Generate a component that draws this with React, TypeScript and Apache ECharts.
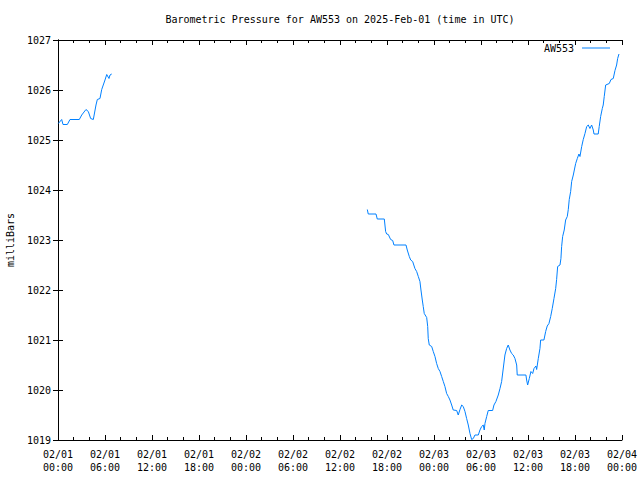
import React, { useEffect, useRef } from "react";
import * as echarts from "echarts";

// Hours since 2025-02-01 00:00 UTC
const hoursSeg1 = [0.04, 0.47, 0.64, 1.19, 1.53, 2.72, 3.03, 3.57, 3.87, 4.17, 4.51, 4.85, 5.02, 5.36, 5.58, 6.0, 6.22, 6.51, 6.64, 6.86];
const pressureSeg1 = [1025.33, 1025.41, 1025.31, 1025.31, 1025.41, 1025.41, 1025.5, 1025.61, 1025.57, 1025.43, 1025.41, 1025.7, 1025.81, 1025.83, 1026.01, 1026.2, 1026.31, 1026.23, 1026.3, 1026.32];

const hoursSeg2 = [
  39.49, 39.61, 40.6, 40.76, 41.66, 41.83, 41.96, 42.17, 42.47, 42.73, 42.89, 44.43, 44.59, 44.85, 45.03, 45.28, 45.57, 45.79, 46.0, 46.21,
  46.34, 46.51, 46.63, 46.76, 47.07, 47.2, 47.27, 47.4, 47.71, 47.91, 48.13, 48.34, 48.55, 48.77, 48.98, 49.19, 49.4, 49.62, 49.83, 50.04,
  50.26, 50.46, 50.9, 51.1, 51.32, 51.54, 51.74, 51.96, 52.17, 52.38, 52.6, 52.81, 53.02, 53.23, 53.66, 53.87, 54.09, 54.29, 54.42, 54.51,
  54.73, 54.93, 55.49, 55.66, 55.91, 56.21, 56.43, 56.64, 57.06, 57.28, 57.48, 57.7, 57.92, 58.12, 58.34, 58.56, 58.63, 59.74, 59.83, 59.96,
  60.17, 60.38, 60.6, 60.77, 61.02, 61.11, 61.32, 61.53, 61.62, 62.04, 62.26, 62.46, 62.68, 62.9, 63.1, 63.32, 63.54, 63.66, 63.79, 64.09,
  64.21, 64.3, 64.43, 64.63, 64.81, 65.02, 65.15, 65.27, 65.45, 65.58, 65.79, 65.92, 66.09, 66.3, 66.51, 66.64, 66.86, 67.06, 67.28, 67.5,
  67.7, 67.91, 68.13, 68.34, 68.43, 68.97, 69.1, 69.28, 69.49, 69.61, 69.74, 69.92, 70.38, 70.6, 70.89, 71.11, 71.32, 71.45, 71.62,
];
const pressureSeg2 = [
  1023.61, 1023.52, 1023.52, 1023.42, 1023.42, 1023.17, 1023.12, 1023.11, 1023.01, 1022.99, 1022.9, 1022.9, 1022.8, 1022.67, 1022.6, 1022.57, 1022.43, 1022.37, 1022.27, 1022.17,
  1022.0, 1021.8, 1021.67, 1021.53, 1021.45, 1021.27, 1021.03, 1020.9, 1020.87, 1020.77, 1020.67, 1020.53, 1020.43, 1020.37, 1020.27, 1020.17, 1020.07, 1019.93, 1019.87, 1019.8,
  1019.7, 1019.6, 1019.59, 1019.5, 1019.61, 1019.7, 1019.67, 1019.57, 1019.43, 1019.3, 1019.13, 1019.01, 1019.03, 1019.1, 1019.1, 1019.2, 1019.27, 1019.3, 1019.2, 1019.33,
  1019.47, 1019.59, 1019.59, 1019.7, 1019.77, 1019.9, 1020.03, 1020.17, 1020.7, 1020.83, 1020.9, 1020.8, 1020.73, 1020.7, 1020.63, 1020.5, 1020.3, 1020.3, 1020.2, 1020.1,
  1020.23, 1020.37, 1020.33, 1020.43, 1020.48, 1020.41, 1020.63, 1020.83, 1021.0, 1021.0, 1021.17, 1021.28, 1021.33, 1021.47, 1021.63, 1021.83, 1022.03, 1022.21, 1022.47, 1022.5,
  1022.63, 1022.87, 1023.07, 1023.2, 1023.4, 1023.47, 1023.61, 1023.81, 1023.97, 1024.17, 1024.3, 1024.4, 1024.53, 1024.63, 1024.72, 1024.67, 1024.87, 1025.01, 1025.13, 1025.27,
  1025.3, 1025.23, 1025.3, 1025.2, 1025.12, 1025.12, 1025.27, 1025.47, 1025.63, 1025.7, 1025.87, 1026.1, 1026.13, 1026.21, 1026.23, 1026.39, 1026.5, 1026.63, 1026.72,
];

const xTickLabels = [
  "02/01\n00:00", "02/01\n06:00", "02/01\n12:00", "02/01\n18:00",
  "02/02\n00:00", "02/02\n06:00", "02/02\n12:00", "02/02\n18:00",
  "02/03\n00:00", "02/03\n06:00", "02/03\n12:00", "02/03\n18:00",
  "02/04\n00:00",
];

const seriesName = "AW553";
const titleText = "Barometric Pressure for AW553 on 2025-Feb-01 (time in UTC)";
const yAxisTitle = "milliBars";

const FONT = "DejaVu Sans Mono";
const LINE_COLOR = "#0080ff";

export default function App() {
  const ref = useRef<HTMLDivElement>(null);

  useEffect(() => {
    if (!ref.current) return;
    const chart = echarts.init(ref.current, null, { renderer: "svg" });

    const data: any[] = [];
    hoursSeg1.forEach((h, i) => data.push([h, pressureSeg1[i]]));
    data.push([20, null]);
    hoursSeg2.forEach((h, i) => data.push([h, pressureSeg2[i]]));

    const axisLine = { show: true, lineStyle: { color: "#000", width: 1 } };
    const tick = { show: true, inside: true, length: 5, lineStyle: { color: "#000" } };
    const minor = { show: true, splitNumber: 3, length: 3, lineStyle: { color: "#000" } };

    chart.setOption({
      animation: false,
      backgroundColor: "#fff",
      grid: { left: 58, right: 18, top: 40, bottom: 40, containLabel: false },
      legend: {
        show: true,
        right: 30,
        top: 43,
        padding: 0,
        align: "right",
        icon: "rect",
        itemWidth: 28,
        itemHeight: 1,
        itemGap: 8,
        textStyle: { fontFamily: FONT, fontSize: 10, color: "#000", padding: [0, 3, 0, 0] },
        data: [{ name: seriesName, icon: "rect", itemStyle: { color: LINE_COLOR } }],
      },
      graphic: [
        {
          type: "text",
          x: 340,
          y: 19,
          style: { text: titleText, textAlign: "center", textVerticalAlign: "middle", font: `10px "${FONT}"`, fill: "#000" },
        },
        {
          type: "text",
          x: 10,
          y: 240,
          rotation: Math.PI / 2,
          style: { text: yAxisTitle, textAlign: "center", textVerticalAlign: "middle", font: `10px "${FONT}"`, fill: "#000" },
        },
      ],
      xAxis: [
        {
          type: "value",
          min: 0,
          max: 72,
          interval: 6,
          position: "bottom",
          axisLine,
          axisTick: tick,
          minorTick: minor,
          splitLine: { show: false },
          axisLabel: {
            show: true,
            margin: 8,
            fontFamily: FONT,
            fontSize: 10,
            lineHeight: 13,
            color: "#000",
            formatter: (v: number) => xTickLabels[Math.round(v / 6)] ?? "",
          },
        },
        {
          type: "value",
          min: 0,
          max: 72,
          interval: 6,
          position: "top",
          axisLine,
          axisTick: tick,
          minorTick: minor,
          splitLine: { show: false },
          axisLabel: { show: false },
        },
      ],
      yAxis: [
        {
          type: "value",
          min: 1019,
          max: 1027,
          interval: 1,
          position: "left",
          axisLine,
          axisTick: tick,
          splitLine: { show: false },
          axisLabel: {
            show: true,
            margin: 7,
            fontFamily: FONT,
            fontSize: 10,
            color: "#000",
            formatter: (v: number) => String(Math.round(v)),
          },
        },
        {
          type: "value",
          min: 1019,
          max: 1027,
          interval: 1,
          position: "right",
          axisLine,
          axisTick: tick,
          splitLine: { show: false },
          axisLabel: { show: false },
        },
      ],
      series: [
        {
          name: seriesName,
          type: "line",
          xAxisIndex: 0,
          yAxisIndex: 0,
          data,
          showSymbol: false,
          symbol: "none",
          connectNulls: false,
          lineStyle: { color: LINE_COLOR, width: 1 },
          itemStyle: { color: LINE_COLOR },
        },
      ],
    });

    return () => chart.dispose();
  }, []);

  return (
    <div
      ref={ref}
      style={{ position: "fixed", left: 0, top: 0, width: 640, height: 480, background: "#fff" }}
    />
  );
}
